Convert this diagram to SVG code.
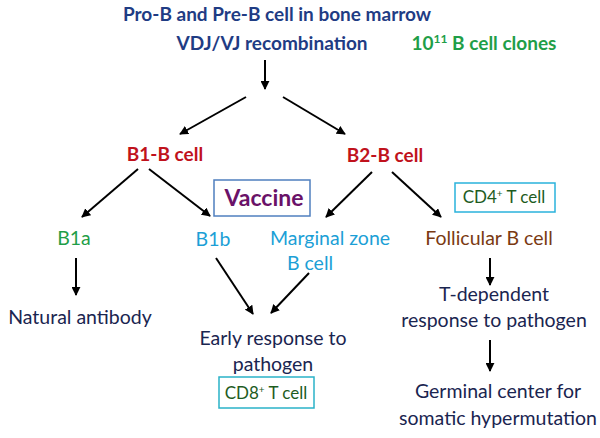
<svg xmlns="http://www.w3.org/2000/svg" width="600" height="438" viewBox="0 0 600 438">
<defs>
<marker id="ah" viewBox="0 0 10 10" refX="9" refY="5" markerWidth="4.5" markerHeight="4.5" orient="auto" markerUnits="strokeWidth">
<path d="M0,0 L10,5 L0,10 z" fill="#000"/>
</marker>
</defs>
<style>
text{font-family:Lato,"Open Sans","Liberation Sans",sans-serif;font-size:19.5px;text-anchor:middle}
.b{font-weight:bold;font-size:19px}
.navy{fill:#1a2550}
.top{fill:#1f3c84}
.red{fill:#c0121c}
.grn{fill:#1f9e48}
.lb{fill:#1c9fd6}
.brn{fill:#7a3a12}
.dg{fill:#1e5c1e;font-size:17px}
.sup{font-size:10px}
.box{fill:#fff;stroke-width:1.5}
#connectors line{stroke:#000;stroke-width:2;marker-end:url(#ah)}
</style>
<rect width="600" height="438" fill="#fff"/>
<g id="n-progen"><text x="277" y="21" class="b top">Pro-B and Pre-B cell in bone marrow</text></g>
<g id="n-vdj"><text x="272" y="50" class="b top">VDJ/VJ recombination</text></g>
<g id="n-clones"><text x="484" y="50" class="b grn">10<tspan font-size="12" dy="-7">11</tspan><tspan dy="7"> B cell clones</tspan></text></g>
<g id="n-b1"><text x="165" y="161" class="b red">B1-B cell</text></g>
<g id="n-b2"><text x="385" y="162" class="b red">B2-B cell</text></g>
<g id="n-vaccine"><rect x="214" y="180" width="96" height="36" class="box" stroke="#4f7fbf"/><text x="264" y="206" class="b" fill="#6a1268" style="font-size:23px">Vaccine</text></g>
<g id="n-cd4"><rect x="455" y="183" width="100" height="29" class="box" stroke="#2ab2dc"/><text x="504" y="203" class="dg">CD4<tspan class="sup" dy="-6">+</tspan><tspan dy="6"> T cell</tspan></text></g>
<g id="n-b1a"><text x="74" y="245" class="grn">B1a</text></g>
<g id="n-b1b"><text x="213" y="246" class="lb">B1b</text></g>
<g id="n-mz"><text x="330" y="245" class="lb">Marginal zone</text><text x="310" y="270" class="lb">B cell</text></g>
<g id="n-fol"><text x="489" y="245" class="brn">Follicular B cell</text></g>
<g id="n-nat"><text x="80" y="324" class="navy">Natural antibody</text></g>
<g id="n-early"><text x="273" y="345" class="navy">Early response to</text><text x="273" y="371" class="navy">pathogen</text></g>
<g id="n-cd8"><rect x="219" y="377" width="95" height="31" class="box" stroke="#2ab2c8"/><text x="266" y="399" class="dg">CD8<tspan class="sup" dy="-6">+</tspan><tspan dy="6"> T cell</tspan></text></g>
<g id="n-tdep"><text x="494" y="301" class="navy">T-dependent</text><text x="494" y="327" class="navy">response to pathogen</text></g>
<g id="n-gc"><text x="498" y="398" class="navy">Germinal center for</text><text x="498" y="425" class="navy">somatic hypermutation</text></g>
<g id="connectors">
<line x1="265" y1="60" x2="265" y2="89"/>
<line x1="246" y1="97" x2="180" y2="134"/>
<line x1="283" y1="97" x2="345" y2="134"/>
<line x1="138" y1="169" x2="82" y2="217"/>
<line x1="149" y1="169" x2="210" y2="216"/>
<line x1="372" y1="172" x2="326" y2="217"/>
<line x1="392" y1="172" x2="441" y2="217"/>
<line x1="76" y1="258" x2="76" y2="295"/>
<line x1="216" y1="258" x2="253" y2="314"/>
<line x1="309" y1="273" x2="271" y2="313"/>
<line x1="490" y1="258" x2="490" y2="285"/>
<line x1="490" y1="340" x2="490" y2="371"/>
</g>
</svg>
